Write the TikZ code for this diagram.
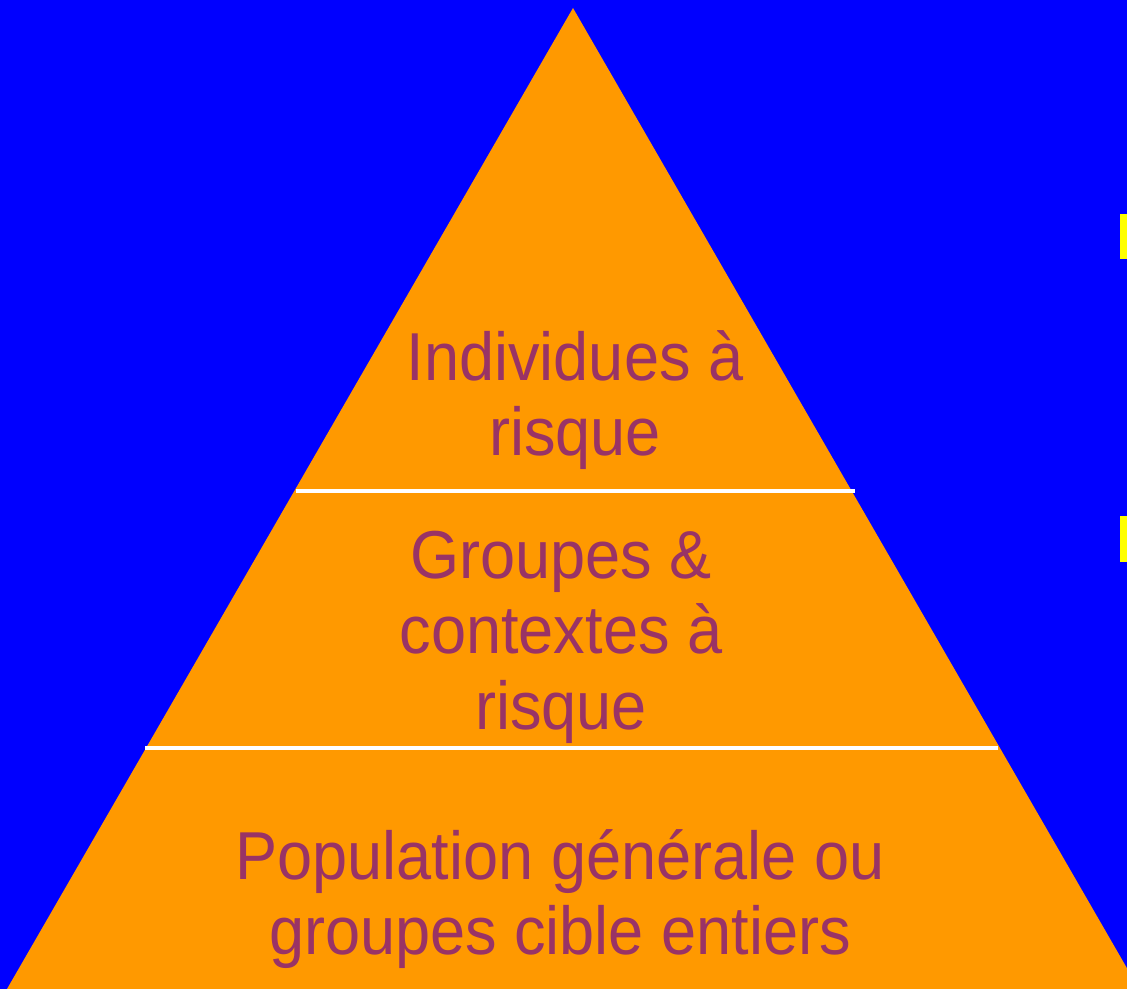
\documentclass[tikz,border=0pt]{standalone}
\usepackage{fontspec}
\setmainfont[FakeStretch=0.93]{Liberation Sans}
\definecolor{bgblue}{HTML}{0000FF}
\definecolor{pyrorange}{HTML}{FF9900}
\definecolor{txtpurple}{HTML}{993366}
\definecolor{markyellow}{HTML}{FFFF00}
\tikzset{
  level/.style={text=txtpurple, align=center, inner sep=0pt,
    font=\fontsize{38.6}{43}\selectfont},
  divider/.style={draw=white, line width=2pt},
  edgemark/.style={fill=markyellow}
}
\begin{document}
\begin{tikzpicture}[x=0.02cm, y=-0.02cm]

        % Background
        \fill[bgblue] (0,0) rectangle (1127,989);
        \useasboundingbox (0,0) rectangle (1127,989);

        % Pyramid
        \coordinate (apex) at (573,8);
        \coordinate (baseL) at (7,989);
        \coordinate (baseR) at (1139,989);
        \begin{scope}
          \clip (0,0) rectangle (1127,989);
          \fill[pyrorange] (apex) -- (baseL) -- (baseR) -- cycle;
        \end{scope}

        % Dividers
        \coordinate (d1a) at (296,491);
        \coordinate (d1b) at (855,491);
        \coordinate (d2a) at (145,748);
        \coordinate (d2b) at (998,748);
        \draw[divider] (d1a) -- (d1b);
        \draw[divider] (d2a) -- (d2b);

        % Levels
        \node[level] (top) at (575,400) {Individues à\\risque};
        \node[level] (mid) at (561,637) {Groupes \&\\contextes à\\risque};
        \node[level] (bot) at (560,899) {Population générale ou\\groupes cible entiers};

        % Edge marks
        \fill[edgemark] (1120,214) rectangle (1127,259);
        \fill[edgemark] (1120,516) rectangle (1127,562);

\end{tikzpicture}
\end{document}
